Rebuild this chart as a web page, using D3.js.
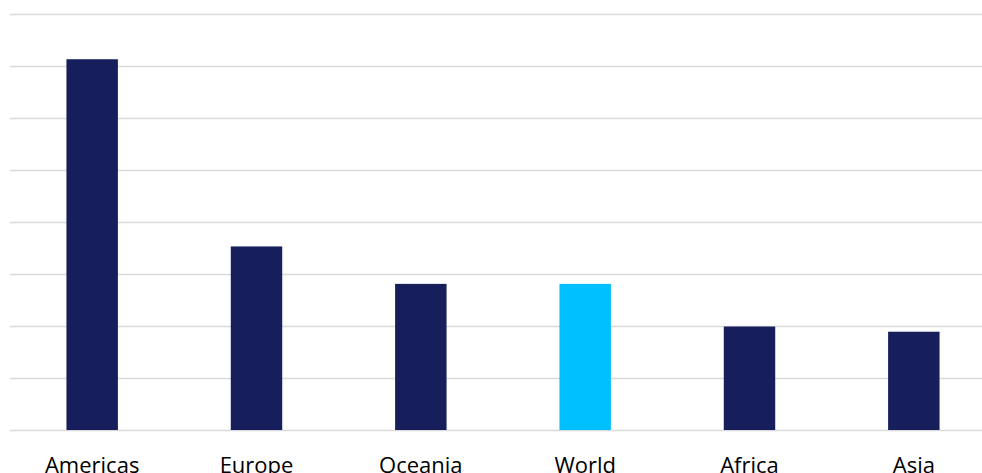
<!DOCTYPE html>
<html>
<head>
<meta charset="utf-8">
<script src="https://cdn.jsdelivr.net/npm/d3@7"></script>
<style>
  html, body { margin: 0; padding: 0; background: #fff; }
  svg { display: block; }
</style>
</head>
<body>
<svg id="chart" width="982" height="473"></svg>
<script>
const categories = ["Americas", "Europe", "Oceania", "World", "Africa", "Asia"];
const values = [7.13, 3.53, 2.81, 2.81, 1.99, 1.89];
const highlight = ["World"];
const yTicks = [0, 1, 2, 3, 4, 5, 6, 7, 8];

const svg = d3.select("#chart");
const mLeft = 10, mRight = 996, mTop = 14, mBottom = 430;

const x = d3.scaleBand().domain(categories).range([mLeft, mRight]).paddingInner(0.687).paddingOuter(0.3435);
const y = d3.scaleLinear().domain([0, 8]).range([mBottom, mTop]);

// gridlines
const yAxis = d3.axisLeft(y).tickValues(yTicks).tickSize(-(mRight - mLeft)).tickFormat("");
const g = svg.append("g").attr("transform", `translate(${mLeft},0)`).call(yAxis);
g.select(".domain").remove();
g.selectAll(".tick line").attr("stroke", "#d9d9d9").attr("stroke-width", 1.5);

// bars
svg.append("g").selectAll("rect").data(categories).join("rect")
  .attr("x", d => x(d))
  .attr("width", x.bandwidth())
  .attr("y", (d, i) => y(values[i]))
  .attr("height", (d, i) => y(0) - y(values[i]))
  .attr("fill", d => highlight.includes(d) ? "#00bfff" : "#161e5c");

// x labels
const xAxis = d3.axisBottom(x).tickSize(0).tickPadding(0);
const xa = svg.append("g").attr("transform", `translate(0,${mBottom})`).call(xAxis);
xa.select(".domain").remove();
xa.selectAll("text")
  .attr("dy", null)
  .attr("y", 43)
  .attr("font-family", "'Open Sans', sans-serif")
  .attr("font-size", 22)
  .attr("fill", "#000");
</script>
</body>
</html>
